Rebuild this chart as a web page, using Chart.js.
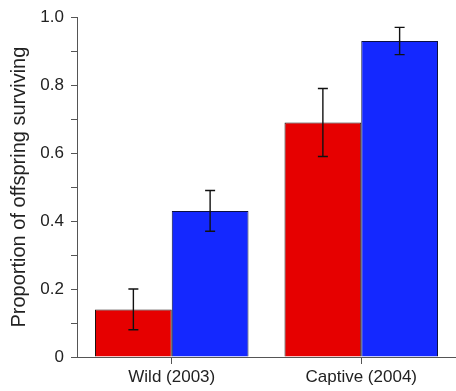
<!DOCTYPE html>
<html>
<head>
<meta charset="utf-8">
<script src="https://cdn.jsdelivr.net/npm/chart.js@4.4.0/dist/chart.umd.min.js"></script>
<style>
  html, body { margin: 0; padding: 0; background: #fff; }
  #wrap { width: 456px; height: 391px; }
</style>
</head>
<body>
<div id="wrap"><canvas id="chart" width="456" height="391"></canvas></div>
<script>
// Data
const categories = ['Wild (2003)', 'Captive (2004)'];
const redValues = [0.14, 0.69];
const redErrors = [0.06, 0.10];
const blueValues = [0.43, 0.93];
const blueErrors = [0.06, 0.04];
const yTickLabels = ['0', '0.2', '0.4', '0.6', '0.8', '1.0'];

const axisColor = '#555555';
const textColor = '#222222';
const family = 'Liberation Sans, Arial, sans-serif';

// Error bars drawn over the bars
const errorBars = {
    id: 'errorBars',
    afterDatasetsDraw(chart) {
        const ctx = chart.ctx;
        const yScale = chart.scales.y;
        chart.data.datasets.forEach((ds, i) => {
            const meta = chart.getDatasetMeta(i);
            meta.data.forEach((bar, j) => {
                const v = ds.data[j];
                const e = ds.errors[j];
                const yTop = yScale.getPixelForValue(v + e);
                const yBot = yScale.getPixelForValue(v - e);
                const x = bar.x;
                ctx.save();
                ctx.strokeStyle = '#111';
                ctx.lineWidth = 1.4;
                ctx.beginPath();
                ctx.moveTo(x, yTop);
                ctx.lineTo(x, yBot);
                ctx.moveTo(x - 5, yTop);
                ctx.lineTo(x + 5, yTop);
                ctx.moveTo(x - 5, yBot);
                ctx.lineTo(x + 5, yBot);
                ctx.stroke();
                ctx.restore();
            });
        });
    }
};

new Chart(document.getElementById('chart').getContext('2d'), {
    type: 'bar',
    data: {
        labels: categories,
        datasets: [{
            data: redValues,
            errors: redErrors,
            backgroundColor: '#e60000',
            borderColor: '#1e1010',
            borderWidth: 1
        }, {
            data: blueValues,
            errors: blueErrors,
            backgroundColor: '#1428ff',
            borderColor: '#0c1040',
            borderWidth: 1
        }]
    },
    options: {
        responsive: false,
        animation: false,
        categoryPercentage: 0.81,
        barPercentage: 1.0,
        layout: { padding: { top: 10, right: 0, left: 0, bottom: 0 } },
        plugins: {
            legend: { display: false },
            tooltip: { enabled: false }
        },
        scales: {
            x: {
                offset: true,
                grid: {
                    offset: false,
                    drawOnChartArea: false,
                    color: axisColor,
                    tickLength: 7
                },
                border: { color: axisColor, width: 1 },
                ticks: { color: textColor, font: { family: family, size: 17 }, padding: 3, maxRotation: 0 },
                afterFit(scale) { scale.height = 34; }
            },
            y: {
                min: 0,
                max: 1,
                grid: {
                    drawOnChartArea: false,
                    color: axisColor,
                    tickLength: 6
                },
                border: { color: axisColor, width: 1 },
                ticks: {
                    stepSize: 0.1,
                    color: textColor,
                    font: { family: family, size: 17 },
                    padding: 7,
                    callback: (val, idx) => idx % 2 === 0 ? yTickLabels[idx / 2] : ''
                },
                title: {
                    display: true,
                    text: 'Proportion of offspring surviving',
                    color: textColor,
                    font: { family: family, size: 20 },
                    padding: { top: 7, bottom: 4 }
                },
                afterFit(scale) { scale.width = 77; }
            }
        }
    },
    plugins: [errorBars]
});
</script>
</body>
</html>
